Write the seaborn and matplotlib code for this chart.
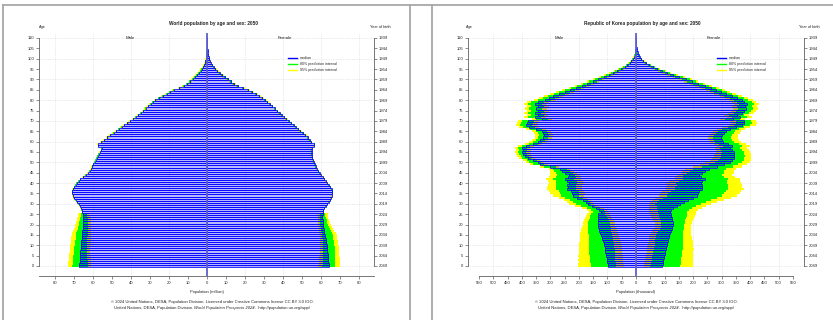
import numpy as np
import matplotlib
matplotlib.use("Agg")
import matplotlib.pyplot as plt
import seaborn as sns
from matplotlib.lines import Line2D

plt.rcParams['font.family'] = ['Liberation Sans', 'DejaVu Sans']

AGES = list(range(111))
AGE_TICKS = list(range(0, 111, 5))
YEAR_LABELS = ["2049", "2044", "2039", "2034", "2029", "2024", "2019", "2014", "2009", "2004",
               "1999", "1994", "1989", "1984", "1979", "1974", "1969", "1964", "1959", "1954",
               "1949", "1944", "1939"]

# ---------------- World (million) ----------------
WORLD_MALE = [67.3, 67.2, 67.1, 67.0, 66.9, 66.8, 66.7, 66.6, 66.5, 66.4,
              66.3, 66.2, 66.1, 66.0, 65.9, 65.8, 65.7, 65.6, 65.5, 65.4,
              65.4, 65.3, 65.3, 65.3, 65.4, 65.5, 65.6, 65.9, 66.3, 66.8,
              67.5, 68.3, 69.2, 69.9, 70.5, 70.9, 70.8, 70.4, 69.8, 69.2,
              68.5, 67.6, 66.6, 65.2, 63.8, 62.6, 61.7, 61.0, 60.4, 59.8,
              59.2, 58.6, 58.0, 57.5, 57.0, 56.3, 55.6, 55.4, 57.2, 57.4,
              55.6, 54.0, 52.4, 50.8, 49.2, 47.8, 46.4, 45.0, 43.5, 41.9,
              40.4, 38.9, 37.5, 36.2, 34.9, 33.6, 32.3, 31.0, 29.7, 28.4,
              27.2, 25.2, 23.2, 21.2, 19.4, 17.6, 14.5, 12.2, 10.4, 8.9,
              7.6, 6.4, 5.3, 4.3, 3.4, 2.7, 2.0, 1.5, 1.1, 0.8,
              0.55, 0.4, 0.28, 0.18, 0.12, 0.08, 0.05, 0.03, 0.02, 0.01, 0.01]
WORLD_FEMALE = [64.0, 64.0, 63.9, 63.8, 63.7, 63.6, 63.5, 63.4, 63.3, 63.2,
                63.0, 62.8, 62.6, 62.4, 62.2, 62.0, 61.8, 61.6, 61.4, 61.2,
                61.0, 60.9, 60.8, 60.7, 60.7, 60.8, 61.0, 61.3, 61.8, 62.5,
                63.3, 64.0, 64.8, 65.3, 65.8, 66.0, 66.0, 65.6, 64.9, 64.0,
                63.2, 62.6, 61.8, 61.0, 60.0, 59.3, 58.6, 57.9, 57.3, 56.7,
                56.2, 55.8, 55.4, 55.2, 55.1, 55.0, 55.0, 55.3, 56.3, 56.5,
                54.8, 54.0, 53.0, 51.8, 50.5, 49.2, 48.0, 46.8, 45.6, 44.3,
                43.0, 41.8, 40.6, 39.4, 38.2, 36.9, 35.6, 34.3, 33.0, 31.8,
                30.6, 29.2, 27.6, 25.8, 23.8, 21.8, 19.0, 16.2, 14.2, 12.5,
                11.0, 9.4, 8.0, 6.7, 5.5, 4.4, 3.5, 2.7, 2.1, 1.6,
                1.2, 0.9, 0.65, 0.45, 0.3, 0.2, 0.12, 0.08, 0.05, 0.03, 0.02]

# distances of interval bounds from the median, ages 0-25 (projected births)
WM_DLO95_YOUNG = [6.2, 6.0, 5.9, 5.7, 5.6, 5.4, 5.3, 5.2, 5.1, 5.0, 5.0, 4.9, 4.9,
                  4.8, 4.8, 4.7, 4.7, 4.6, 4.6, 4.5, 4.5, 4.4, 4.3, 4.2, 4.0, 3.6]
WM_DLO80_YOUNG = [4.5, 4.4, 4.3, 4.2, 4.0, 3.9, 3.8, 3.7, 3.6, 3.5, 3.4, 3.3, 3.2,
                  3.1, 3.0, 3.0, 2.9, 2.9, 2.8, 2.8, 2.7, 2.7, 2.6, 2.5, 2.4, 2.1]
WM_DHI80_YOUNG = [3.5, 3.5, 3.6, 3.6, 3.6, 3.6, 3.5, 3.5, 3.4, 3.4, 3.4, 3.3, 3.3,
                  3.2, 3.2, 3.1, 3.0, 2.8, 2.6, 2.4, 2.2, 1.9, 1.6, 1.4, 1.1, 0.9]
WM_DHI95_YOUNG = [5.9, 5.9, 5.8, 5.8, 5.7, 5.7, 5.7, 5.7, 5.7, 5.7, 5.7, 5.6, 5.6,
                  5.5, 5.5, 5.4, 5.2, 4.9, 4.6, 4.3, 4.0, 3.6, 3.3, 3.0, 2.7, 2.4]
WF_DLO95_YOUNG = [5.4, 5.2, 5.0, 4.8, 4.6, 4.4, 4.2, 4.0, 3.8, 3.6, 3.5, 3.3, 3.1,
                  3.0, 2.8, 2.7, 2.6, 2.5, 2.5, 2.4, 2.4, 2.3, 2.3, 2.2, 2.2, 2.2]
WF_DLO80_YOUNG = [3.3, 3.2, 3.0, 2.9, 2.7, 2.6, 2.5, 2.3, 2.2, 2.0, 1.9, 1.8, 1.7,
                  1.6, 1.5, 1.4, 1.4, 1.4, 1.3, 1.3, 1.3, 1.3, 1.3, 1.3, 1.3, 1.3]
WF_DHI80_YOUNG = [3.4, 3.5, 3.6, 3.7, 3.8, 3.8, 3.9, 3.9, 4.0, 4.0, 4.0, 4.1, 4.1,
                  4.1, 4.2, 4.2, 4.0, 3.7, 3.4, 3.1, 2.8, 2.5, 2.2, 1.9, 1.6, 1.3]
WF_DHI95_YOUNG = [6.0, 6.0, 6.1, 6.1, 6.1, 6.1, 6.2, 6.2, 6.2, 6.2, 6.2, 6.2, 6.2,
                  6.2, 6.2, 6.2, 5.9, 5.5, 5.1, 4.7, 4.3, 3.9, 3.5, 3.2, 2.9, 2.7]
# ages 26-110: small half-widths of the intervals
W_OLD_D80 = [0.2, 0.2, 0.2, 0.2, 0.2, 0.2, 0.2, 0.2, 0.2, 0.2,
             0.2, 0.2, 0.2, 0.2, 0.2, 0.2, 0.2, 0.2, 0.2, 0.2,
             0.2, 0.2, 0.2, 0.2, 0.2, 0.2, 0.2, 0.2, 0.2, 0.2,
             0.2, 0.2, 0.2, 0.2,
             0.3, 0.3, 0.3, 0.3, 0.3, 0.3, 0.3, 0.3, 0.3, 0.3,
             0.3, 0.3, 0.3, 0.3, 0.3, 0.3, 0.3, 0.3, 0.3, 0.3,
             0.4, 0.4, 0.4, 0.4, 0.4, 0.4, 0.4, 0.4, 0.4, 0.4,
             0.4, 0.4, 0.4, 0.4, 0.4, 0.4,
             0.3, 0.3, 0.2, 0.2, 0.2, 0.1, 0.1, 0.1, 0.1, 0.05,
             0.05, 0.03, 0.02, 0.01, 0.01]
W_OLD_D95 = [0.4, 0.4, 0.4, 0.4, 0.4, 0.4, 0.4, 0.4, 0.4, 0.4,
             0.4, 0.4, 0.4, 0.4, 0.4, 0.4, 0.4, 0.4, 0.4, 0.4,
             0.4, 0.4, 0.4, 0.4, 0.4, 0.4, 0.4, 0.4, 0.4, 0.4,
             0.4, 0.4, 0.4, 0.4,
             0.6, 0.6, 0.6, 0.6, 0.6, 0.6, 0.6, 0.6, 0.6, 0.6,
             0.6, 0.6, 0.6, 0.6, 0.6, 0.6, 0.6, 0.6, 0.6, 0.6,
             0.8, 0.8, 0.8, 0.8, 0.8, 0.8, 0.8, 0.8, 0.8, 0.8,
             0.8, 0.8, 0.8, 0.8, 0.8, 0.8,
             0.6, 0.5, 0.4, 0.4, 0.3, 0.2, 0.2, 0.1, 0.1, 0.08,
             0.06, 0.04, 0.03, 0.02, 0.01]

# ---------------- Republic of Korea (thousand) ----------------
KOREA_MALE = [97, 99, 100, 102, 103, 105, 106, 107, 109, 110,
              111, 113, 115, 118, 120, 123, 125, 128, 130, 132,
              134, 134, 134, 133, 133, 132, 124, 128, 140, 155,
              168, 175, 185, 205, 222, 225, 226, 240, 238, 240,
              236, 240, 250, 238, 236, 250, 258, 265, 300, 335,
              345, 360, 380, 388, 395, 398, 395, 398, 385, 360,
              345, 335, 325, 322, 325, 330, 350, 375, 385, 382,
              378, 330, 355, 345, 355, 345, 352, 345, 355, 345,
              320, 305, 290, 270, 250, 230, 210, 190, 170, 150,
              132, 113, 96, 80, 65, 52, 40, 30, 22, 16,
              11, 7, 5, 3, 2, 1.2, 0.8, 0.5, 0.3, 0.2, 0.1]
KOREA_FEMALE = [91, 93, 94, 96, 97, 99, 100, 102, 104, 105,
                107, 109, 111, 113, 115, 117, 120, 122, 125, 127,
                128, 128, 127, 126, 124, 122, 118, 122, 130, 142,
                155, 168, 182, 198, 212, 218, 222, 232, 230, 232,
                228, 232, 240, 228, 222, 230, 240, 255, 285, 310,
                330, 338, 342, 345, 345, 342, 335, 328, 335, 322,
                305, 300, 298, 300, 308, 315, 330, 350, 372, 380,
                378, 340, 365, 355, 370, 378, 385, 382, 388, 380,
                370, 355, 335, 315, 298, 282, 262, 240, 218, 196,
                175, 152, 130, 110, 92, 75, 60, 46, 35, 26,
                19, 13, 9, 6, 4, 2.5, 1.5, 1, 0.6, 0.4, 0.2]

KM_DLO95 = [55, 56, 56, 57, 58, 58, 59, 59, 60, 60,
            61, 61, 61, 62, 62, 62, 62, 62, 62, 62,
            62, 60, 56, 50, 46, 42, 30, 28, 28, 25,
            22, 24, 28, 35, 40, 45, 45, 50, 48, 52,
            55, 55, 58, 45, 40, 45, 40, 35, 30, 26,
            24, 24, 25, 25, 26, 26, 26, 27, 27, 27,
            28, 28, 30, 30, 30, 32, 34, 36, 38, 38,
            38, 36, 38, 38, 40, 40, 40, 40, 40, 40,
            38, 37, 36, 34, 32, 30, 28, 26, 24, 22,
            20, 18, 16, 14, 12, 10, 8, 6, 5, 4,
            3, 2, 1.5, 1, 0.8, 0.5, 0.3, 0.2, 0.1, 0.1, 0.05]
KM_DLO80 = [28, 29, 30, 30, 31, 32, 32, 33, 34, 34,
            35, 36, 36, 37, 38, 39, 40, 41, 42, 43,
            44, 42, 38, 34, 30, 24, 16, 15, 15, 13,
            11, 13, 16, 20, 24, 27, 28, 30, 29, 30,
            31, 32, 34, 28, 24, 30, 26, 22, 18, 14,
            12, 12, 13, 13, 14, 14, 14, 15, 15, 15,
            16, 16, 17, 17, 18, 19, 20, 21, 22, 22,
            22, 21, 22, 22, 23, 23, 24, 24, 24, 24,
            23, 22, 21, 20, 19, 18, 17, 15, 14, 13,
            12, 11, 10, 8, 7, 6, 5, 4, 3, 2.5,
            2, 1.3, 1, 0.7, 0.5, 0.3, 0.2, 0.1, 0.1, 0.05, 0.03]
KM_DHI80 = [61, 60, 60, 59, 58, 57, 57, 56, 55, 54,
            52, 51, 49, 47, 45, 43, 42, 40, 38, 37,
            35, 33, 31, 29, 27, 26, 26, 28, 32, 38,
            42, 46, 46, 44, 42, 40, 44, 42, 44, 42,
            44, 42, 40, 42, 40, 30, 28, 26, 24, 26,
            29, 22, 18, 16, 15, 15, 15, 15, 15, 16,
            16, 17, 17, 18, 18, 19, 20, 20, 21, 22,
            22, 22, 22, 22, 23, 23, 23, 23, 23, 23,
            22, 21, 20, 19, 18, 17, 16, 15, 14, 13,
            12, 11, 10, 8, 7, 6, 5, 4, 3, 2.5,
            2, 1.3, 1, 0.7, 0.5, 0.3, 0.2, 0.1, 0.1, 0.05, 0.03]
KM_DHI95 = [105, 103, 101, 100, 98, 97, 95, 93, 91, 89,
            87, 85, 82, 79, 76, 73, 70, 66, 62, 58,
            53, 50, 47, 44, 42, 40, 41, 45, 50, 58,
            65, 68, 66, 66, 70, 75, 78, 72, 74, 70,
            69, 68, 64, 68, 66, 50, 45, 40, 36, 38,
            40, 35, 30, 28, 27, 27, 27, 27, 28, 28,
            29, 30, 30, 31, 32, 33, 34, 35, 36, 36,
            36, 36, 37, 37, 38, 38, 38, 38, 38, 38,
            37, 36, 34, 32, 30, 28, 26, 24, 22, 21,
            20, 18, 16, 14, 12, 10, 8, 6, 5, 4,
            3, 2, 1.5, 1, 0.8, 0.5, 0.3, 0.2, 0.1, 0.1, 0.05]
KF_DLO95 = [64, 64, 65, 65, 65, 65, 65, 65, 65, 65,
            65, 66, 67, 68, 69, 70, 68, 66, 64, 62,
            61, 63, 66, 69, 72, 74, 72, 76, 85, 97,
            110, 118, 125, 130, 133, 133, 130, 128, 126, 125,
            124, 115, 105, 90, 80, 74, 78, 82, 85, 86,
            87, 80, 75, 72, 70, 60, 55, 50, 50, 48,
            46, 45, 45, 45, 45, 45, 46, 46, 47, 47,
            47, 45, 46, 46, 46, 46, 46, 46, 46, 45,
            44, 43, 42, 40, 38, 36, 34, 32, 30, 28,
            26, 23, 20, 18, 15, 12, 10, 8, 6, 5,
            4, 3, 2, 1.3, 0.9, 0.6, 0.4, 0.3, 0.2, 0.1, 0.05]
KF_DLO80 = [41, 41, 41, 41, 42, 42, 42, 42, 42, 42,
            42, 43, 44, 45, 46, 47, 46, 44, 42, 41,
            40, 40, 41, 41, 42, 42, 40, 44, 55, 70,
            87, 95, 100, 103, 105, 105, 100, 96, 92, 90,
            89, 82, 75, 64, 56, 50, 52, 54, 54, 53,
            52, 50, 49, 48, 46, 40, 36, 32, 31, 30,
            29, 28, 28, 28, 28, 28, 28, 28, 28, 28,
            28, 27, 28, 28, 28, 28, 28, 28, 28, 27,
            26, 26, 25, 24, 23, 22, 21, 19, 18, 17,
            15, 14, 12, 10, 9, 7, 6, 5, 4, 3,
            2.4, 1.8, 1.3, 0.8, 0.6, 0.4, 0.3, 0.2, 0.1, 0.06, 0.03]
KF_DHI80 = [63, 63, 62, 62, 61, 61, 60, 60, 59, 59,
            58, 56, 54, 52, 49, 46, 45, 44, 42, 40,
            39, 42, 45, 49, 54, 58, 62, 64, 66, 68,
            71, 76, 82, 87, 90, 92, 92, 92, 92, 92,
            92, 88, 84, 82, 80, 78, 70, 62, 55, 48,
            42, 40, 38, 36, 35, 35, 36, 37, 38, 38,
            38, 37, 36, 35, 34, 33, 32, 30, 28, 26,
            25, 25, 25, 25, 25, 25, 25, 25, 25, 25,
            24, 23, 22, 21, 20, 19, 18, 17, 16, 15,
            14, 13, 11, 10, 8, 7, 6, 5, 4, 3,
            2.4, 1.8, 1.3, 0.8, 0.6, 0.4, 0.3, 0.2, 0.1, 0.06, 0.03]
KF_DHI95 = [110, 108, 107, 105, 104, 102, 101, 99, 98, 96,
            94, 91, 88, 84, 80, 76, 72, 70, 67, 65,
            64, 67, 72, 78, 83, 87, 92, 96, 100, 104,
            107, 115, 125, 135, 142, 147, 147, 145, 142, 140,
            139, 132, 125, 120, 116, 113, 105, 96, 88, 78,
            71, 66, 62, 59, 58, 58, 60, 62, 63, 63,
            63, 62, 60, 58, 56, 54, 52, 50, 48, 45,
            42, 42, 42, 42, 42, 42, 42, 42, 42, 41,
            40, 38, 36, 34, 32, 30, 28, 26, 24, 22,
            20, 18, 16, 14, 12, 10, 8, 7, 5, 4,
            3, 2, 1.5, 1, 0.8, 0.5, 0.3, 0.2, 0.1, 0.08, 0.04]

BLUE = '#0000FF'
GREEN = '#00FF00'
YELLOW = '#FFFF00'
FRAME = '#a8a8a8'
AXCOL = '#606060'
TXT = '#222222'

W, H = 833, 320
fig = plt.figure(figsize=(W / 100, H / 100), dpi=100)


def fx(px):
    return px / W


def fy(py):
    return 1 - py / H


def T(px, py, s, fs=3.0, ha='center', **kw):
    return fig.text(fx(px), fy(py), s, fontsize=fs, ha=ha, va='center', color=TXT, **kw)


Y_LO, Y_HI = -4.825, 112.41


def draw_panel(left_px, right_px, zero_px, ppu, male, female, moff, foff,
               xticks, grid_x, bottom_bounds):
    ax = fig.add_axes([fx(left_px), fy(276), (right_px - left_px) / W, (276 - 33) / H])
    ages = np.array(AGES, dtype=float)
    mm = np.array(male, dtype=float)
    ff = np.array(female, dtype=float)
    mlo95, mlo80, mhi80, mhi95 = [np.array(a, dtype=float) for a in moff]
    flo95, flo80, fhi80, fhi95 = [np.array(a, dtype=float) for a in foff]

    for gx in grid_x:
        ax.axvline(gx, color='#d6d6d6', lw=0.5, ls=(0, (1, 1.5)), zorder=0)
    for gy in range(0, 111, 10):
        ax.axhline(gy, color='#d6d6d6', lw=0.5, ls=(0, (1, 1.5)), zorder=0)

    # 95% prediction interval
    ax.barh(ages, mlo95 + mhi95, left=-(mm + mhi95), height=1.0, color=YELLOW, lw=0, zorder=1)
    ax.barh(ages, flo95 + fhi95, left=ff - flo95, height=1.0, color=YELLOW, lw=0, zorder=1)
    # 80% prediction interval
    ax.barh(ages, mlo80 + mhi80, left=-(mm + mhi80), height=1.0, color=GREEN, lw=0, zorder=1.5)
    ax.barh(ages, flo80 + fhi80, left=ff - flo80, height=1.0, color=GREEN, lw=0, zorder=1.5)

    n0 = len(ax.patches)
    sns.barplot(x=-mm, y=ages, orient='h', native_scale=True, width=1.0, errorbar=None,
                color=BLUE, edgecolor=BLUE, linewidth=0.72, ax=ax, zorder=3)
    sns.barplot(x=ff, y=ages, orient='h', native_scale=True, width=1.0, errorbar=None,
                color=BLUE, edgecolor=BLUE, linewidth=0.72, ax=ax, zorder=3)
    for p in ax.patches[n0:]:
        c = p.get_y() + p.get_height() / 2
        p.set_y(c - 0.5)
        p.set_height(1.0)
        p.set_alpha(None)
        p.set_snap(True)
        p.set_facecolor((0.0, 0.0, 1.0, 0.28))
        p.set_edgecolor((0.0, 0.0, 1.0, 0.75))
    ax.axvline(0, color=(0.38, 0.38, 0.80), lw=1.3, zorder=4)

    xl = ((left_px - zero_px) / ppu, (right_px - zero_px) / ppu)
    ax.set_xlim(*xl)
    ax.set_ylim(Y_LO, Y_HI)
    ax.set_xlabel('')
    ax.set_ylabel('')
    ax.set_xticks(xticks)
    ax.set_xticklabels([str(abs(t)) for t in xticks])
    ax.set_yticks(AGE_TICKS)
    ax.set_yticklabels([str(a) for a in AGE_TICKS])
    for s in ['top', 'right']:
        ax.spines[s].set_visible(False)
    ax.spines['left'].set_bounds(0, 110)
    ax.spines['bottom'].set_bounds(*bottom_bounds)
    for s in ['left', 'bottom']:
        ax.spines[s].set_color(AXCOL)
        ax.spines[s].set_linewidth(0.6)
    ax.tick_params(axis='both', which='both', direction='out', length=2.2, width=0.5,
                   color=AXCOL, labelsize=3.0, labelcolor=TXT, pad=1.2,
                   bottom=True, left=True, top=False, right=False)
    ax.patch.set_alpha(0)

    ax2 = ax.twinx()
    ax2.set_ylim(Y_LO, Y_HI)
    ax2.set_yticks(AGE_TICKS)
    ax2.set_yticklabels(YEAR_LABELS)
    for s in ['top', 'left', 'bottom']:
        ax2.spines[s].set_visible(False)
    ax2.spines['right'].set_bounds(0, 110)
    ax2.spines['right'].set_color(AXCOL)
    ax2.spines['right'].set_linewidth(0.6)
    ax2.tick_params(axis='y', direction='out', length=2.2, width=0.5, color=AXCOL,
                    labelsize=3.0, labelcolor=TXT, pad=1.2)
    ax2.patch.set_alpha(0)
    return ax


W_M_OFF = [WM_DLO95_YOUNG + W_OLD_D95, WM_DLO80_YOUNG + W_OLD_D80,
           WM_DHI80_YOUNG + W_OLD_D80, WM_DHI95_YOUNG + W_OLD_D95]
W_F_OFF = [WF_DLO95_YOUNG + W_OLD_D95, WF_DLO80_YOUNG + W_OLD_D80,
           WF_DHI80_YOUNG + W_OLD_D80, WF_DHI95_YOUNG + W_OLD_D95]
K_M_OFF = [KM_DLO95, KM_DLO80, KM_DHI80, KM_DHI95]
K_F_OFF = [KF_DLO95, KF_DLO80, KF_DHI80, KF_DHI95]

ax_w = draw_panel(39, 374, 207, 1.9, WORLD_MALE, WORLD_FEMALE, W_M_OFF, W_F_OFF,
                  list(range(-80, 81, 10)), list(range(-80, 81, 20)), (-88.4, 87.9))
ax_k = draw_panel(468, 804, 636, 0.28545, KOREA_MALE, KOREA_FEMALE, K_M_OFF, K_F_OFF,
                  list(range(-550, 551, 50)), list(range(-500, 501, 100)), (-550, 550))

# ---------------- texts ----------------
for cx, title, lx, rx, mx, fxp, legx in [
        (213, 'World population by age and sex: 2050', 42, 380, 130, 285, 288),
        (642, 'Republic of Korea population by age and sex: 2050', 469, 809, 559, 714, 717)]:
    T(cx, 23, title, fs=3.4, fontweight='bold')
    T(lx, 27, 'Age', fs=2.8)
    T(rx, 27, 'Year of birth', fs=2.8)
    T(mx, 38, 'Male', fs=3.2)
    T(fxp, 38, 'Female', fs=3.2)
    for i, (col, lab) in enumerate([(BLUE, 'median'), (GREEN, '80% prediction interval'),
                                    (YELLOW, '95% prediction interval')]):
        yy = 58.3 + 6.0 * i
        fig.add_artist(Line2D([fx(legx), fx(legx + 9)], [fy(yy), fy(yy)], color=col, lw=1.0))
        T(legx + 12, yy, lab, fs=2.6, ha='left')

T(207, 292, 'Population (million)', fs=2.9)
T(636, 292, 'Population (thousand)', fs=2.9)

renderer = fig.canvas.get_renderer()


def credits(cx):
    T(cx, 301.7, '\u00a9 2024 United Nations, DESA, Population Division. Licensed under '
                 'Creative Commons license CC BY 3.0 IGO.', fs=3.0)
    parts = [('United Nations, DESA, Population Division.', 'normal'),
             ('World Population Prospects 2024', 'italic'),
             ('.  http://population.un.org/wpp/', 'normal')]
    objs = [fig.text(0, fy(307.7), s, fontsize=3.0, style=st, ha='left', va='center', color=TXT)
            for s, st in parts]
    widths = [o.get_window_extent(renderer).width for o in objs]
    gap = 1.2
    total = sum(widths) + gap
    x = cx - total / 2
    for i, (o, w) in enumerate(zip(objs, widths)):
        o.set_x(fx(x))
        x += w + (gap if i == 0 else 0)


credits(212)
credits(636)

# ---------------- frame lines ----------------
for (x0, y0, x1, y1) in [(3, 5, 833, 5), (3, 5, 3, 320), (409.5, 5, 409.5, 320), (432, 5, 432, 320)]:
    fig.add_artist(Line2D([fx(x0), fx(x1)], [fy(y0), fy(y1)], color=FRAME, lw=1.3))

fig.savefig('out.png', dpi=100)
